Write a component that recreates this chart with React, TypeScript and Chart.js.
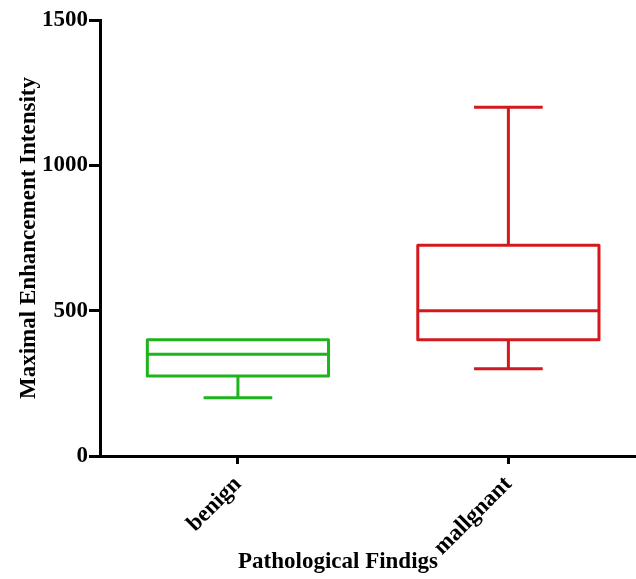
import React, { useEffect, useRef } from 'react';
import { Chart, registerables } from 'chart.js';

Chart.register(...registerables);

const categories = ['benign', 'mallgnant'];
const whiskerLow = [200, 300];
const quartile1 = [275, 400];
const medians = [350, 500];
const quartile3 = [400, 725];
const whiskerHigh = [400, 1200];
const yTicks = [0, 500, 1000, 1500];
const boxColors = ['#1eb41e', '#d4181e'];

const FONT = "'Liberation Serif', 'Times New Roman', serif";
const BOX_HALF = 0.335;
const CAP_HALF = 0.127;

const boxPlugin = {
  id: 'boxplot',
  afterDatasetsDraw(chart: any) {
    const { ctx } = chart;
    const xs = chart.scales.x;
    const ys = chart.scales.y;
    ctx.save();
    ctx.lineWidth = 3;
    ctx.lineJoin = 'round';
    ctx.lineCap = 'butt';
    categories.forEach((_, i) => {
      const cx = xs.getPixelForValue(i);
      const half = xs.getPixelForValue(i + BOX_HALF) - cx;
      const cap = xs.getPixelForValue(i + CAP_HALF) - cx;
      const yLo = ys.getPixelForValue(whiskerLow[i]);
      const yQ1 = ys.getPixelForValue(quartile1[i]);
      const yMed = ys.getPixelForValue(medians[i]);
      const yQ3 = ys.getPixelForValue(quartile3[i]);
      const yHi = ys.getPixelForValue(whiskerHigh[i]);
      ctx.strokeStyle = boxColors[i];
      ctx.beginPath();
      ctx.rect(cx - half, yQ3, 2 * half, yQ1 - yQ3);
      ctx.stroke();
      ctx.beginPath();
      ctx.moveTo(cx - half, yMed);
      ctx.lineTo(cx + half, yMed);
      ctx.stroke();
      ctx.beginPath();
      if (yLo - yQ1 > 1) {
        ctx.moveTo(cx, yQ1);
        ctx.lineTo(cx, yLo);
        ctx.moveTo(cx - cap, yLo);
        ctx.lineTo(cx + cap, yLo);
      }
      if (yQ3 - yHi > 1) {
        ctx.moveTo(cx, yQ3);
        ctx.lineTo(cx, yHi);
        ctx.moveTo(cx - cap, yHi);
        ctx.lineTo(cx + cap, yHi);
      }
      ctx.stroke();
    });
    ctx.restore();
  },
  afterDraw(chart: any) {
    const { ctx, chartArea } = chart;
    const xs = chart.scales.x;
    const yb = typeof xs._borderValue === 'number' ? xs._borderValue : chartArea.bottom;
    ctx.save();
    ctx.strokeStyle = '#000';
    ctx.lineWidth = 3;
    ctx.beginPath();
    ctx.moveTo(chartArea.right - 2, yb);
    ctx.lineTo(chart.width, yb);
    ctx.stroke();
    ctx.restore();
  },
};

export default function App() {
  const ref = useRef<HTMLCanvasElement | null>(null);
  useEffect(() => {
    if (!ref.current) return;
    const chart = new Chart(ref.current, {
      type: 'scatter',
      data: {
        datasets: [
          {
            data: categories.map((_, i) => ({ x: i, y: medians[i] })),
            pointRadius: 0,
            showLine: false,
          },
        ],
      },
      options: {
        animation: false,
        responsive: false,
        devicePixelRatio: 1,
        layout: { padding: { top: 20, right: 60, bottom: 0, left: 0 } },
        plugins: { legend: { display: false }, tooltip: { enabled: false } },
        scales: {
          x: {
            type: 'linear',
            min: -0.51,
            max: 1.25,
            afterBuildTicks: (s: any) => {
              s.ticks = categories.map((_, i) => ({ value: i }));
            },
            afterFit: (s: any) => {
              s.height = 123;
            },
            grid: {
              drawOnChartArea: false,
              tickLength: 8,
              tickWidth: 3,
              tickColor: '#000',
              color: '#000',
            },
            border: { color: '#000', width: 3 },
            ticks: {
              autoSkip: false,
              minRotation: 45,
              maxRotation: 45,
              padding: 7,
              color: '#000',
              font: { family: FONT, size: 23, weight: 'bold' },
              callback: (v: any) => categories[v as number] ?? '',
            },
            title: {
              display: true,
              text: 'Pathological Findigs',
              color: '#000',
              font: { family: FONT, size: 23, weight: 'bold' },
              padding: { top: 0, bottom: 3 },
            },
          },
          y: {
            type: 'linear',
            min: 0,
            max: 1500,
            afterBuildTicks: (s: any) => {
              s.ticks = yTicks.map((v) => ({ value: v }));
            },
            afterFit: (s: any) => {
              s.width = 100;
            },
            grid: {
              drawOnChartArea: false,
              tickLength: 11,
              tickWidth: 3,
              tickColor: '#000',
              color: '#000',
            },
            border: { color: '#000', width: 3 },
            ticks: {
              padding: 1,
              color: '#000',
              font: { family: FONT, size: 23, weight: 'bold' },
              callback: (v: any) => String(v),
            },
            title: {
              display: true,
              text: 'Maximal Enhancement Intensity',
              color: '#000',
              font: { family: FONT, size: 23, weight: 'bold' },
              padding: { top: 15, bottom: 0 },
            },
          },
        },
      },
      plugins: [boxPlugin],
    });
    return () => chart.destroy();
  }, []);
  return (
    <div style={{ position: 'fixed', left: 0, top: 0, width: 636, height: 579 }}>
      <canvas ref={ref} width={636} height={579} style={{ display: 'block' }} />
    </div>
  );
}
